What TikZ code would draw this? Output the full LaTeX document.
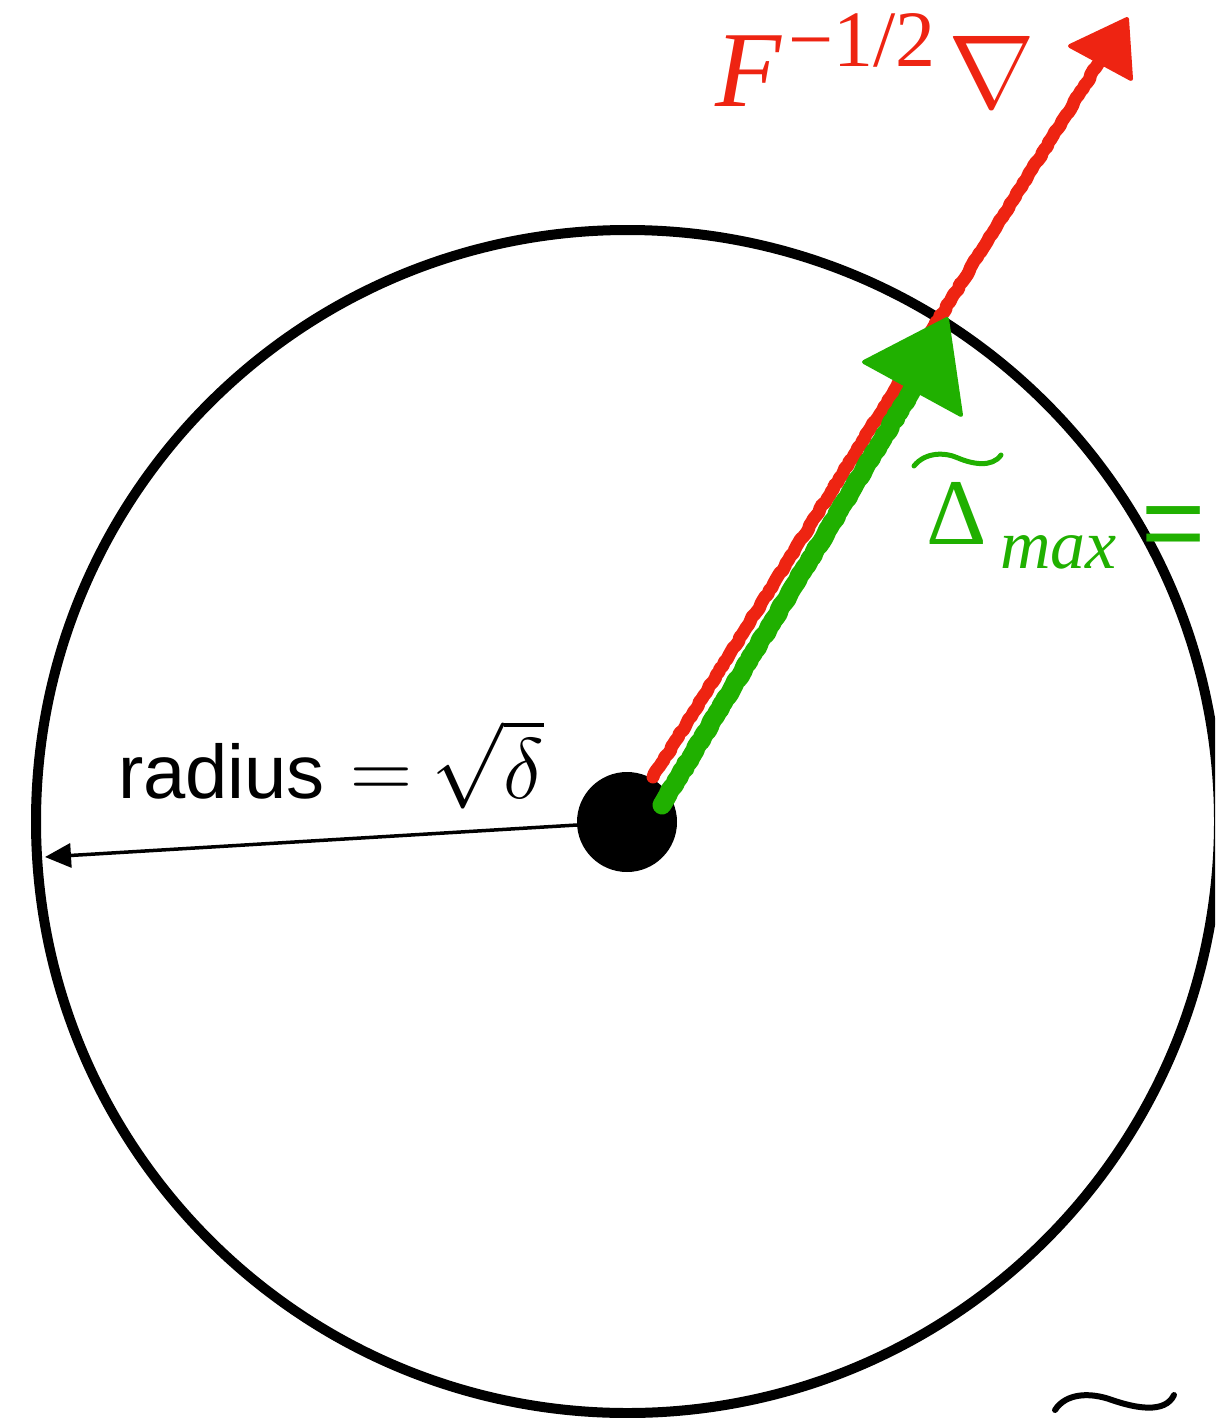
\RequirePackage{fix-cm}
\documentclass[tikz,border=0pt]{standalone}
\usepackage{fontspec}
\setsansfont{Liberation Sans}
\newfontfamily\tms{Liberation Serif}
\usetikzlibrary{arrows.meta,decorations.pathmorphing}
\definecolor{penred}{RGB}{238,36,18}
\definecolor{pengreen}{RGB}{32,176,0}
\tikzset{
  lbl/.style={anchor=base west, inner sep=0pt, outer sep=0pt},
  rough/.style={decorate, decoration={random steps, segment length=4pt, amplitude=0.9pt}},
  redpen/.style={draw=penred, line width=13pt, line cap=round, line join=round, rough},
  greenpen/.style={draw=pengreen, line width=19pt, line cap=round, line join=round, rough},
  headred/.style={fill=penred, draw=penred, line width=4pt, line join=round},
  headgreen/.style={fill=pengreen, draw=pengreen, line width=4pt, line join=round},
}
\begin{document}
\begin{tikzpicture}[x=1pt,y=-1pt]
\useasboundingbox (0,0) rectangle (1215,1418);
\clip (0,0) rectangle (1215,1418);
% trust region circle
\coordinate (c) at (627.5,821.5);
\draw[line width=10pt] (c) circle[radius=591.5pt];
% centre dot
\node[circle, fill=black, minimum size=100pt, inner sep=0pt] (dot) at (627,822) {};
% radius arrow
\coordinate (rtip) at (45,857);
\draw[line width=3.5pt, -{Triangle[length=26pt,width=24pt]}] (dot) -- (rtip);
\node[lbl, font=\fontsize{76}{90}\selectfont] (rlabel) at (118,798) {\sffamily radius {\fontsize{86}{96}\selectfont$\mkern1mu=\mkern-1mu\sqrt{\delta}$}};
% red natural gradient arrow
\coordinate (rstart) at (653,777);
\coordinate (rbase) at (1098,64);
\coordinate (rtipR) at (1127,19);
\coordinate (rl) at (1070,46);
\coordinate (rr) at (1131,79);
\draw[redpen] (rstart) -- (rbase);
\path[headred] (rl) -- (rtipR) -- (rr) -- cycle;
% green step arrow
\coordinate (gstart) at (662,805);
\coordinate (gbase) at (912,390);
\coordinate (gtip) at (947,319);
\coordinate (gl) at (864,362);
\coordinate (gr) at (961,415);
\draw[greenpen] (gstart) -- (gbase);
\path[headgreen] (gl) -- (gtip) -- (gr) -- cycle;
% red label
\node[lbl, text=penred, font=\fontsize{108}{120}\selectfont] (fF) at (715,107) {\tms\itshape F};
\node[lbl, text=penred, font=\fontsize{80}{90}\selectfont] (fexp) at (788,67) {\tms −1/2};
\node[lbl, text=penred, font=\fontsize{104}{120}\selectfont] (fnabla) at (948,108) {$\nabla$};
% green label
\node[lbl, text=pengreen, font=\fontsize{94}{110}\selectfont] (gdelta) at (926,544) {\tms Δ};
\draw[pengreen, line width=5pt, line cap=round] (914,466) .. controls (925,452) and (945,452) .. (958,458) .. controls (972,464) and (992,468) .. (1001,455);
\node[lbl, text=pengreen, font=\fontsize{70}{80}\selectfont] (gmax) at (1000,568) {\tms\itshape max};
\node[lbl, text=pengreen, font=\fontsize{110}{120}\selectfont] (geq) at (1141,560) {\sffamily =};
% bottom tilde (cut-off formula)
\draw[line width=6pt, line cap=round] (1055,1410) .. controls (1066,1393) and (1090,1392) .. (1112,1400) .. controls (1135,1408) and (1165,1414) .. (1174,1395);
\end{tikzpicture}
\end{document}
